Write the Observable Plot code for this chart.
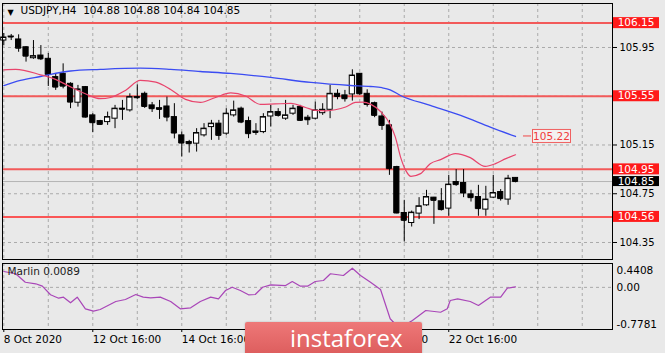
<!DOCTYPE html>
<html>
<head>
<meta charset="utf-8">
<script src="https://cdn.jsdelivr.net/npm/d3@7"></script>
<script src="https://cdn.jsdelivr.net/npm/@observablehq/plot@0.6"></script>
<style>
html,body{margin:0;padding:0;background:#e9e9e9;}
#wrap{position:relative;width:665px;height:353px;overflow:hidden;background:#e9e9e9;font-family:"DejaVu Sans",sans-serif;}
#main,#ind{position:absolute;left:0;}
#main{top:0;}
#ind{top:262px;}
#logo{position:absolute;left:245px;top:322px;width:177px;height:34px;background:linear-gradient(#ee7878,#dc5c5c);border-radius:2px;box-shadow:0 0 2px rgba(0,0,0,0.25);}
#logo span{position:absolute;left:45px;top:1px;color:#fff;font-family:"Open Sans",sans-serif;font-size:24px;font-weight:400;line-height:30px;letter-spacing:0px;}
</style>
</head>
<body>
<div id="wrap">
  <div id="main"></div>
  <div id="ind"></div>
  <div id="logo"><span>instaforex</span></div>
</div>
<script>
// ---------- data ----------
const symbolTitle = "USDJPY,H4\u00a0\u00a0104.88 104.88 104.84 104.85";
const barIndex = d3.range(1, 71);
const opens  = [106.007,106.040,106.016,105.952,105.862,105.884,105.857,105.707,105.734,105.652,
                105.497,105.625,105.393,105.346,105.338,105.366,105.448,105.434,105.543,105.570,
                105.475,105.452,105.466,105.379,105.229,105.174,105.161,105.229,105.297,105.325,
                105.243,105.393,105.448,105.346,105.261,105.256,105.384,105.420,105.366,105.407,
                105.461,105.374,105.366,105.411,105.439,105.570,105.557,105.565,105.734,105.570,
                105.493,105.384,105.311,104.969,104.592,104.510,104.587,104.655,104.718,104.688,
                104.628,104.846,104.838,104.745,104.723,104.620,104.718,104.764,104.702,104.880];
const highs  = [106.065,106.057,106.054,105.958,106.007,105.966,105.901,105.734,105.816,105.661,
                105.639,105.630,105.407,105.352,105.420,105.475,105.516,105.570,105.644,105.584,
                105.499,105.516,105.543,105.489,105.256,105.188,105.284,105.325,105.352,105.352,
                105.448,105.510,105.461,105.379,105.325,105.407,105.475,105.448,105.516,105.475,
                105.475,105.393,105.502,105.489,105.639,105.603,105.598,105.767,105.737,105.603,
                105.502,105.420,105.352,104.975,104.696,104.608,104.718,104.778,104.720,104.792,
                104.901,104.948,104.948,104.778,104.819,104.811,104.901,104.784,104.901,104.880];
const lows   = [105.966,106.007,105.911,105.830,105.853,105.843,105.630,105.598,105.611,105.448,
                105.461,105.371,105.251,105.311,105.311,105.284,105.352,105.420,105.524,105.450,
                105.417,105.360,105.340,105.200,105.051,105.084,105.092,105.215,105.188,105.188,
                105.229,105.379,105.325,105.202,105.229,105.243,105.297,105.379,105.352,105.393,
                105.343,105.311,105.357,105.393,105.366,105.521,105.502,105.510,105.557,105.461,
                105.374,105.270,104.901,104.585,104.354,104.477,104.538,104.647,104.499,104.608,
                104.565,104.811,104.718,104.682,104.565,104.565,104.710,104.690,104.655,104.840];
const closes = [106.032,106.036,105.944,105.879,105.879,105.857,105.729,105.625,105.633,105.502,
                105.606,105.379,105.333,105.319,105.379,105.448,105.443,105.543,105.538,105.466,
                105.448,105.442,105.379,105.248,105.166,105.161,105.248,105.284,105.325,105.229,
                105.407,105.434,105.338,105.243,105.253,105.379,105.420,105.393,105.393,105.448,
                105.352,105.357,105.434,105.439,105.570,105.548,105.530,105.720,105.570,105.483,
                105.393,105.311,104.956,104.592,104.532,104.595,104.647,104.723,104.696,104.620,
                104.825,104.825,104.756,104.718,104.628,104.702,104.756,104.710,104.874,104.850];

// slow MA (blue), read at bar positions
const blueBars = [1.0,3.25,5.95,10.0,14.0,19.4,23.5,27.5,31.6,37.0,42.4,47.75,50.45,52.0,53.1,54.5,58.5,62.6,66.6,70.0];
const blueVals = [105.638,105.680,105.712,105.757,105.770,105.780,105.770,105.753,105.737,105.704,105.663,105.638,105.630,105.620,105.603,105.556,105.475,105.393,105.297,105.220];

// fast MA (red)
const redBars = [1.0,2.6,5.95,7.97,9.6,12.0,14.0,15.4,17.4,19.4,21.5,23.5,25.5,27.5,29.55,31.6,33.6,35.6,37.6,39.7,41.7,43.0,44.4,45.7,47.1,48.4,49.4,50.5,51.8,53.1,53.8,54.5,55.2,55.9,57.2,58.5,59.9,61.9,63.9,65.9,67.3,68.7,70.0];
const redVals = [105.766,105.770,105.726,105.688,105.639,105.570,105.530,105.540,105.598,105.680,105.666,105.606,105.524,105.499,105.540,105.577,105.552,105.483,105.487,105.491,105.458,105.434,105.430,105.439,105.462,105.499,105.502,105.483,105.425,105.319,105.215,105.051,104.942,104.893,104.915,104.997,105.030,105.079,105.046,104.975,104.997,105.038,105.070];

// Marlin oscillator
const marlinBars = [1.0,2.6,3.9,5.3,6.2,7.3,8.4,9.05,10.0,10.9,12.0,13.1,14.0,16.1,17.4,18.8,19.8,20.8,22.1,23.5,24.8,26.2,27.5,28.9,29.95,30.9,31.8,32.9,34.0,34.9,35.9,37.0,39.0,39.9,41.0,41.95,43.0,44.1,45.05,46.8,48.0,49.1,50.45,51.8,53.1,54.1,55.2,56.1,57.9,59.9,60.8,61.2,62.2,63.9,65.0,66.6,68.0,68.9,70.0];
const marlinVals = [0.293,0.251,0.095,0.066,0.022,-0.137,-0.200,-0.181,-0.285,-0.181,-0.396,-0.440,-0.409,-0.261,-0.224,-0.132,-0.181,-0.193,-0.181,-0.261,-0.396,-0.377,-0.261,-0.181,-0.211,-0.058,0.003,-0.058,-0.137,-0.132,0.003,0.047,0.034,0.108,0.022,0.022,0.108,0.127,0.251,0.219,0.354,0.219,0.095,-0.039,-0.580,-0.722,-0.686,-0.612,-0.427,-0.459,-0.396,-0.243,-0.211,-0.261,-0.335,-0.181,-0.181,-0.015,0.0089];

const levelPrices = [106.15, 105.55, 104.95, 104.56];
const levelColors = ["#f25a5a", "#f25a5a", "#f25a5a", "#ff2424"];
const bidPrice = 104.85;
const slowLast = 105.22;
const gridPrices = [105.95, 105.55, 105.15, 104.75, 104.35];
const axisPrices = [105.95, 105.15, 104.75, 104.35];
const gridBars = d3.range(1, 83, 6);
const labelBars = [1, 13, 25, 37, 49, 61];
const timeLabels = ["8 Oct 2020", "12 Oct 16:00", "14 Oct 16:00", "16 Oct 16:00", "20 Oct 16:00", "22 Oct 16:00"];
const marlinTicks = [0.4408, 0.00, -0.7781];
const marlinTickText = ["0.4408", "0.00", "-0.7781"];
const marlinTitle = "Marlin 0.0089";

// ---------- build ----------
const bars = barIndex.map((b, k) => ({i: b, o: opens[k], h: highs[k], l: lows[k], c: closes[k]}));
const blue = blueBars.map((b, k) => ({i: b, v: blueVals[k]}));
const red = redBars.map((b, k) => ({i: b, v: redVals[k]}));
const marlin = marlinBars.map((b, k) => ({i: b, v: marlinVals[k]}));
const xDomain = [0.825, 83.08];
const halfW = 0.35;
const FONT = "DejaVu Sans";
const gridStyle = {stroke: "#aaaaaa", strokeOpacity: 1, strokeDasharray: "3,3", strokeWidth: 1};

const main = Plot.plot({
  width: 665, height: 262,
  marginLeft: 2, marginRight: 53, marginTop: 3, marginBottom: 3,
  style: {background: "transparent", fontFamily: FONT, fontSize: "10px", color: "#000", overflow: "visible"},
  x: {domain: xDomain, axis: null},
  y: {domain: [104.2105, 106.311], axis: null},
  marks: [
    Plot.gridX(gridBars, gridStyle),
    Plot.gridY(gridPrices, gridStyle),
    Plot.ruleY([bidPrice], {stroke: "#b4b4b4", strokeWidth: 1}),
    ...levelPrices.map((p, k) => Plot.ruleY([p], {stroke: levelColors[k], strokeWidth: k === 3 ? 1.5 : 2})),
    Plot.ruleX(bars, {x: "i", y1: "l", y2: "h", stroke: "#000", strokeWidth: 1}),
    Plot.rect(bars.filter(d => d.c >= d.o), {x1: d => d.i - halfW, x2: d => d.i + halfW, y1: "o", y2: "c", fill: "#fff", stroke: "#000", strokeWidth: 1}),
    Plot.rect(bars.filter(d => d.c < d.o), {x1: d => d.i - halfW, x2: d => d.i + halfW, y1: "o", y2: "c", fill: "#000", stroke: "#000", strokeWidth: 1}),
    Plot.ruleY(bars, {y: "c", x1: d => d.i - halfW, x2: d => d.i + halfW, stroke: "#000", strokeWidth: 1}),
    Plot.line(blue, {x: "i", y: "v", stroke: "#3b4cf2", strokeWidth: 1.3, curve: "monotone-x"}),
    Plot.line(red, {x: "i", y: "v", stroke: "#e8446c", strokeWidth: 1.2, curve: "monotone-x"}),
    Plot.frame({stroke: "#000", strokeWidth: 1}),
    Plot.axisY(axisPrices, {anchor: "right", label: null, tickSize: 4, tickPadding: 3, tickFormat: d => d.toFixed(2), fontSize: 10, fontFamily: FONT}),
    Plot.text(["\u25BC"], {frameAnchor: "top-left", dx: 5, dy: 6, textAnchor: "start", lineAnchor: "top", fontSize: 8, fill: "#000"}),
    Plot.text([symbolTitle], {frameAnchor: "top-left", dx: 18, dy: 3, textAnchor: "start", lineAnchor: "top", fontSize: 10.5, fontFamily: FONT, fill: "#000"})
  ]
});
document.getElementById("main").appendChild(main);

// price labels on the right, positioned with the plot's own scales
const ysc = main.scale("y"), xsc = main.scale("x");
const rightEdge = xsc.range[1];
const msvg = d3.select(main);
function priceBox(v, fill, textFill, h) {
  const y = ysc.apply(v);
  msvg.append("rect").attr("x", rightEdge + 1).attr("y", y - h / 2).attr("width", 46).attr("height", h).attr("fill", fill);
  msvg.append("text").attr("x", rightEdge + 24).attr("y", y).attr("text-anchor", "middle").attr("dy", "0.35em")
    .attr("fill", textFill).attr("font-family", FONT).attr("font-size", 10.5).text(v.toFixed(2));
}
levelPrices.forEach(p => priceBox(p, "#ff1a1a", "#fff", 11));
priceBox(bidPrice, "#000", "#fff", 10);
// slow MA value tag
{
  const y = ysc.apply(slowLast);
  const x0 = xsc.apply(barIndex[barIndex.length - 1]);
  msvg.append("line").attr("x1", x0 + 8).attr("x2", x0 + 16).attr("y1", y).attr("y2", y).attr("stroke", "#f04848").attr("stroke-width", 1);
  msvg.append("rect").attr("x", x0 + 17.5).attr("y", y - 6.5).attr("width", 38).attr("height", 13)
    .attr("fill", "#f4f0f0").attr("stroke", "#f06060").attr("stroke-width", 1);
  msvg.append("text").attr("x", x0 + 36.5).attr("y", y).attr("dy", "0.35em").attr("text-anchor", "middle")
    .attr("fill", "#f03c3c").attr("font-family", FONT).attr("font-size", 10.5).text(slowLast.toFixed(2));
}

const ind = Plot.plot({
  width: 665, height: 91,
  marginLeft: 2, marginRight: 53, marginTop: 1, marginBottom: 24,
  style: {background: "transparent", fontFamily: FONT, fontSize: "10px", color: "#000", overflow: "visible"},
  x: {domain: xDomain, axis: null},
  y: {domain: [-0.7781, 0.4408], axis: null},
  marks: [
    Plot.gridX(gridBars, gridStyle),
    Plot.gridY([0], gridStyle),
    Plot.line(marlin, {x: "i", y: "v", stroke: "#a946b8", strokeWidth: 1.2}),
    Plot.frame({stroke: "#000", strokeWidth: 1}),
    Plot.text([marlinTitle], {frameAnchor: "top-left", dx: 5, dy: 4, textAnchor: "start", lineAnchor: "top", fontSize: 10.5, fontFamily: FONT, fill: "#222"}),
    Plot.axisX(labelBars, {anchor: "bottom", label: null, tickSize: 3, tickPadding: 3, textAnchor: "start", tickFormat: d => timeLabels[labelBars.indexOf(d)], fontSize: 10.5, fontFamily: FONT}),
    Plot.axisY([marlinTicks[0]], {anchor: "right", label: null, tickSize: 0, tickPadding: 4, dy: 7, tickFormat: () => marlinTickText[0], fontSize: 10.5, fontFamily: FONT}),
    Plot.axisY([marlinTicks[1]], {anchor: "right", label: null, tickSize: 0, tickPadding: 4, tickFormat: () => marlinTickText[1], fontSize: 10.5, fontFamily: FONT}),
    Plot.axisY([marlinTicks[2]], {anchor: "right", label: null, tickSize: 0, tickPadding: 4, dy: -5, tickFormat: () => marlinTickText[2], fontSize: 10.5, fontFamily: FONT})
  ]
});
document.getElementById("ind").appendChild(ind);
</script>
</body>
</html>
